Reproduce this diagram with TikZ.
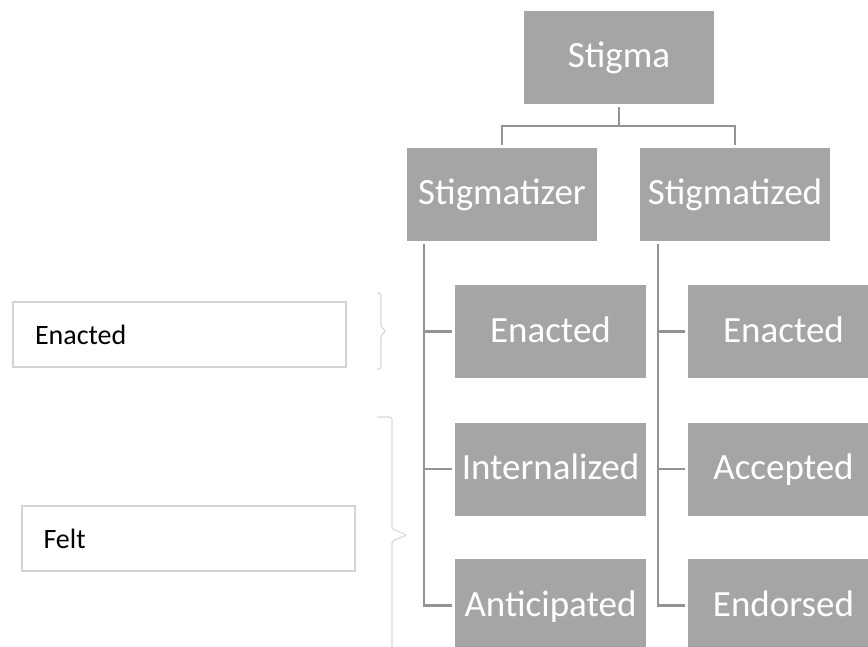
\documentclass[tikz,border=0pt]{standalone}
\usepackage{fontspec}
\setmainfont{Carlito}
\usetikzlibrary{positioning}

\definecolor{boxgray}{HTML}{A5A5A5}
\definecolor{linegray}{HTML}{939393}
\definecolor{framegray}{HTML}{D4D4D4}
\definecolor{bracegray}{HTML}{D9D9D9}

\begin{document}
\begin{tikzpicture}[x=1pt,y=-1pt,
  cat/.style={fill=boxgray,text=white,minimum width=190pt,minimum height=93pt,
    inner sep=0pt,outer sep=3pt,text height=26pt,text depth=5pt,
    font=\fontsize{37}{44}\selectfont},
  leaf/.style={cat,minimum width=191pt},
  kind/.style={draw=framegray,line width=2pt,fill=white,text=black,
    minimum height=65pt,inner xsep=22pt,text width=289pt,align=left,
    font=\fontsize{28}{34}\selectfont},
  conn/.style={draw=linegray,line width=2.5pt},
  bracket/.style={draw=bracegray,line width=1.2pt,rounded corners=2.5pt}]
\useasboundingbox (0,0) rectangle (868,647);

% Top
\node[cat] (stigma) at (619,57.5) {Stigma};
\node[cat] (stigmatizer) at (502,194.5) {Stigmatizer};
\node[cat] (stigmatized) at (735,194.5) {Stigmatized};

% Stigmatizer column
\node[leaf] (enacted1) at (550.5,331.5) {Enacted};
\node[leaf] (internalized) at (550.5,469) {Internalized};
\node[leaf] (anticipated) at (550.5,605.5) {Anticipated};

% Stigmatized column
\node[leaf] (enacted2) at (783.5,331.5) {Enacted};
\node[leaf] (accepted) at (783.5,469) {Accepted};
\node[leaf] (endorsed) at (783.5,605.5) {Endorsed};

% Kinds
\node[kind] (enactedK) at (179.5,334.5) {Enacted};
\node[kind] (felt) at (188,538.5) {Felt};

% Links
\coordinate (split) at ([yshift=-19pt]stigma.south);
\draw[conn] (stigma.south) -- (split);
\draw[conn] (stigmatizer.north) |- (split) -| (stigmatized.north);

\coordinate (trunk1) at ([xshift=20pt]stigmatizer.south west);
\draw[conn] (trunk1) |- (anticipated.west);
\draw[conn] (enacted1.west) -- (enacted1.west -| trunk1);
\draw[conn] (internalized.west) -- (internalized.west -| trunk1);

\coordinate (trunk2) at ([xshift=21pt]stigmatized.south west);
\draw[conn] (trunk2) |- (endorsed.west);
\draw[conn] (enacted2.west) -- (enacted2.west -| trunk2);
\draw[conn] (accepted.west) -- (accepted.west -| trunk2);

% Brackets
\draw[bracket] (377,293) -| (381,327) -- (386,331) -- (381,335) |- (377,369);
\draw[bracket] (377,417) -| (392,529) -- (407,535) -- (392,541) |- (377,653);
\end{tikzpicture}
\end{document}
